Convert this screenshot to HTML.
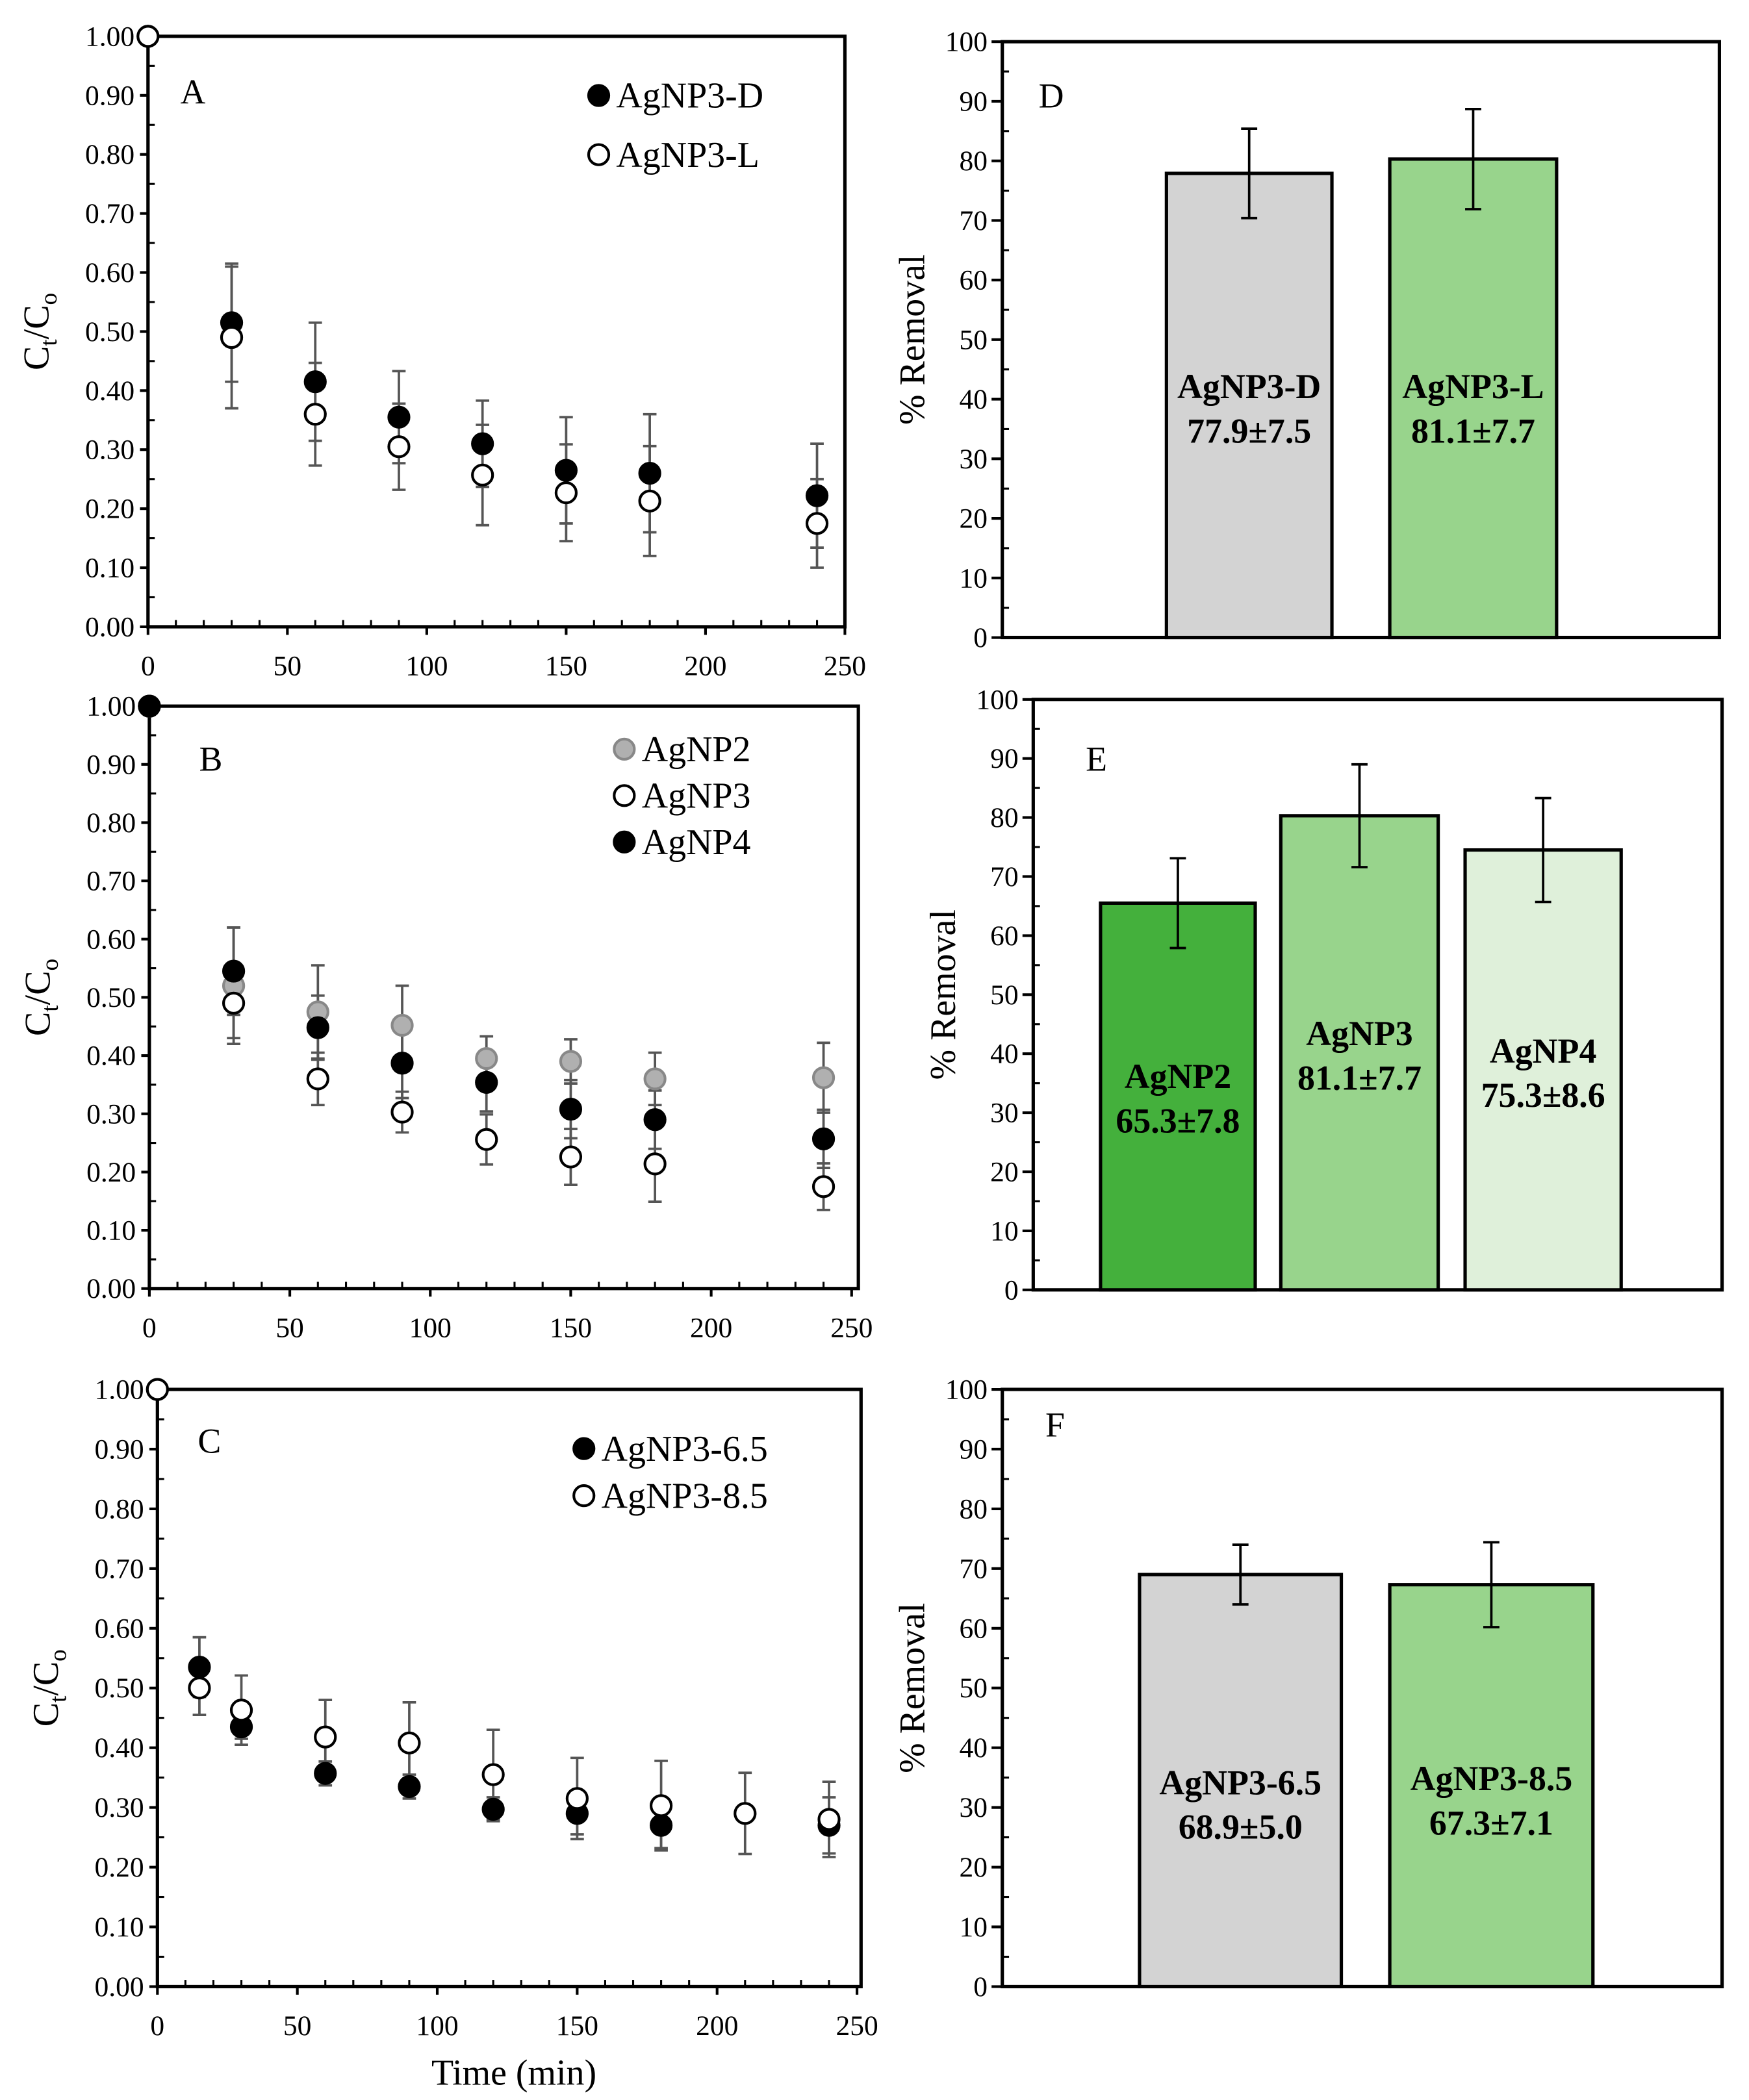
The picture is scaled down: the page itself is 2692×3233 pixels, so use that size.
<!DOCTYPE html>
<html><head><meta charset="utf-8"><style>
html,body{margin:0;padding:0;background:#fff}
svg{display:block;font-family:"Liberation Serif","Times New Roman",serif}
svg text, svg tspan{font-family:"Liberation Serif","Times New Roman",serif;fill:#000}
</style></head><body>
<svg id="fig" width="2692" height="3233" viewBox="0 0 1300 1561.3" font-family="Liberation Serif, serif" xmlns="http://www.w3.org/2000/svg"></svg>
<script>
// ---- Data ----
const timesA = [0,30,60,90,120,150,180,240];
const aD = [1.0,0.515,0.415,0.355,0.31,0.265,0.26,0.222];
const aDerr = [0,0.10,0.10,0.078,0.073,0.09,0.10,0.088];
const aL = [1.0,0.49,0.36,0.305,0.257,0.227,0.213,0.175];
const aLerr = [0,0.12,0.087,0.073,0.085,0.082,0.093,0.075];

const timesB = [0,30,60,90,120,150,180,240];
const b2 = [1.0,0.52,0.475,0.452,0.395,0.39,0.36,0.362];
const b2err = [0,0.10,0.08,0.068,0.038,0.038,0.045,0.06];
const b3 = [1.0,0.49,0.36,0.303,0.256,0.226,0.214,0.175];
const b3err = [0,0.06,0.045,0.035,0.043,0.048,0.065,0.04];
const b4 = [1.0,0.545,0.448,0.387,0.354,0.308,0.29,0.257];
const b4err = [0,0.075,0.055,0.06,0.05,0.05,0.05,0.05];

const timesC = [0,15,30,60,90,120,150,180,210,240];
const c65 = [1.0,0.535,0.435,0.357,0.335,0.297,0.29,0.27,null,0.27];
const c65err = [0,0.05,0.02,0.02,0.02,0.02,0.035,0.038,0,0.047];
const c85 = [1.0,0.50,0.463,0.418,0.408,0.355,0.315,0.303,0.29,0.28];
const c85err = [0,0.045,0.058,0.062,0.068,0.075,0.068,0.075,0.068,0.063];

const dNames = ["AgNP3-D","AgNP3-L"];
const dVals = [77.9,80.3];
const dErr = [7.5,8.4];
const dText = ["77.9±7.5","81.1±7.7"];

const eNames = ["AgNP2","AgNP3","AgNP4"];
const eVals = [65.5,80.3,74.5];
const eErr = [7.6,8.7,8.8];
const eText = ["65.3±7.8","81.1±7.7","75.3±8.6"];

const fNames = ["AgNP3-6.5","AgNP3-8.5"];
const fVals = [69.0,67.3];
const fErr = [5.0,7.1];
const fText = ["68.9±5.0","67.3±7.1"];

const svg = document.getElementById('fig');
const NS = 'http://www.w3.org/2000/svg';
const FF = '"Liberation Serif", serif';
function mk(tag, attrs, parent, txt){
  const e = document.createElementNS(NS, tag);
  for (const k in attrs) e.setAttribute(k, attrs[k]);
  if (tag === 'text') e.style.fontFamily = FF;
  if (txt !== undefined) e.textContent = txt;
  (parent||svg).appendChild(e);
  return e;
}

// ---- Scatter panel ----
function scatterPanel(p){
  const g = mk('g', {});
  
  
  const sx = v => p.x0 + (v/250)*(p.x1 - p.x0);
  const sy = v => p.y0 - v*(p.y0 - p.y1);
  const fr = mk('rect', {x:p.x0, y:p.y1, width:p.xr-p.x0, height:p.y0-p.y1, fill:'none', stroke:'#000', 'stroke-width':2.5}, g);
  
  
  for (let i=0;i<=20;i++){
    const v = i*0.05, y = sy(v);
    if (i%2===0){
      mk('line',{x1:p.x0-6,x2:p.x0,y1:y,y2:y,stroke:'#000','stroke-width':2},g);
      const t = mk('text',{x:p.x0-10,y:y+7,'font-size':21,'text-anchor':'end'},g,v.toFixed(2));
      
      
    } else {
      mk('line',{x1:p.x0,x2:p.x0+5,y1:y,y2:y,stroke:'#000','stroke-width':1.5},g);
    }
  }
  for (let v=0; v<=250; v+=10){
    const x = sx(v);
    if (v%50===0){
      mk('line',{x1:x,x2:x,y1:p.y0,y2:p.y0+6,stroke:'#000','stroke-width':2},g);
      const t = mk('text',{x:x,y:p.y0+36,'font-size':21,'text-anchor':'middle'},g,String(v));
      
      
    } else {
      mk('line',{x1:x,x2:x,y1:p.y0-5,y2:p.y0,stroke:'#000','stroke-width':1.5},g);
    }
  }
  const yt = mk('text',{transform:`translate(${p.x0-74},${(p.y0+p.y1)/2}) rotate(-90)`,'font-size':27,'text-anchor':'middle'},g);
  
  
  mk('tspan',{},yt,'C');
  mk('tspan',{'font-size':18,dy:6},yt,'t');
  mk('tspan',{dy:-6},yt,'/C');
  mk('tspan',{'font-size':18,dy:6},yt,'o');
  const lt = mk('text',{x:p.letter[0],y:p.letter[1],'font-size':26},g,p.letterText);
  
  
  p.series.forEach(s=>{
    s.vals.forEach((v,i)=>{
      if (v===null || !s.err[i]) return;
      const x = sx(p.times[i]);
      const e = mk('path',{d:`M${x},${sy(v-s.err[i])}V${sy(v+s.err[i])}M${x-5},${sy(v-s.err[i])}h10M${x-5},${sy(v+s.err[i])}h10`,stroke:'#555','stroke-width':1.8,fill:'none'},g);
      
      
    });
  });
  p.series.forEach(s=>{
    s.vals.forEach((v,i)=>{
      if (v===null) return;
      const c = mk('circle',{cx:sx(p.times[i]),cy:sy(v),r:7.5,fill:s.fill,stroke:s.stroke,'stroke-width':2},g);
      
      
    });
  });
  p.series.forEach((s,i)=>{
    const ly = p.leg[1] + i*p.legStep;
    const lc = mk('circle',{cx:p.leg[0],cy:ly,r:7.5,fill:s.fill,stroke:s.stroke,'stroke-width':2},g);
    
    
    const lt2 = mk('text',{x:p.leg[0]+13,y:ly+9,'font-size':27},g,s.label);
    
    
  });
}

scatterPanel({name:'panel-a', x0:110, x1:628, xr:628, y0:466, y1:27, times:timesA,
  letter:[134,77], letterText:'A', leg:[445,71], legStep:44,
  series:[{key:'agnp3-d',label:'AgNP3-D',vals:aD,err:aDerr,fill:'#000',stroke:'#000'},
          {key:'agnp3-l',label:'AgNP3-L',vals:aL,err:aLerr,fill:'#fff',stroke:'#000'}]});
scatterPanel({name:'panel-b', x0:111, x1:633, xr:638, y0:958, y1:525, times:timesB,
  letter:[148,573], letterText:'B', leg:[464,557], legStep:34.5,
  series:[{key:'agnp2',label:'AgNP2',vals:b2,err:b2err,fill:'#b0b0b0',stroke:'#888'},
          {key:'agnp3',label:'AgNP3',vals:b3,err:b3err,fill:'#fff',stroke:'#000'},
          {key:'agnp4',label:'AgNP4',vals:b4,err:b4err,fill:'#000',stroke:'#000'}]});
scatterPanel({name:'panel-c', x0:117, x1:637, xr:640, y0:1477, y1:1033, times:timesC,
  letter:[147,1080], letterText:'C', leg:[434,1077], legStep:35,
  series:[{key:'agnp3-6-5',label:'AgNP3-6.5',vals:c65,err:c65err,fill:'#000',stroke:'#000'},
          {key:'agnp3-8-5',label:'AgNP3-8.5',vals:c85,err:c85err,fill:'#fff',stroke:'#000'}]});
const xt = mk('text',{x:382,y:1550,'font-size':27,'text-anchor':'middle'},svg,'Time (min)');



// ---- Bar panel ----
function barPanel(p){
  const g = mk('g', {});
  
  
  const sy = v => p.y0 - (v/100)*(p.y0 - p.y1);
  const fr = mk('rect',{x:p.x0,y:p.y1,width:p.xr-p.x0,height:p.y0-p.y1,fill:'none',stroke:'#000','stroke-width':2.5},g);
  
  
  for (let i=0;i<=20;i++){
    const v=i*5, y=sy(v);
    if (i%2===0){
      mk('line',{x1:p.x0-8,x2:p.x0,y1:y,y2:y,stroke:'#000','stroke-width':2},g);
      const t = mk('text',{x:p.x0-11,y:y+7,'font-size':21,'text-anchor':'end'},g,String(v));
      
      
    } else {
      mk('line',{x1:p.x0,x2:p.x0+5,y1:y,y2:y,stroke:'#000','stroke-width':1.5},g);
    }
  }
  const yt = mk('text',{transform:`translate(${p.x0-58},${(p.y0+p.y1)/2}) rotate(-90)`,'font-size':27,'text-anchor':'middle'},g,'% Removal');
  
  
  const lt = mk('text',{x:p.letter[0],y:p.letter[1],'font-size':26},g,p.letterText);
  
  
  p.vals.forEach((v,i)=>{
    const bx = p.bars[i][0], bw = p.bars[i][1]-p.bars[i][0];
    const r = mk('rect',{x:bx,y:sy(v),width:bw,height:p.y0-sy(v),fill:p.colors[i],stroke:'#000','stroke-width':2.5},g);
    
    
    const cx = bx+bw/2;
    const e = mk('path',{d:`M${cx},${sy(v-p.err[i])}V${sy(v+p.err[i])}M${cx-6},${sy(v-p.err[i])}h12M${cx-6},${sy(v+p.err[i])}h12`,stroke:'#000','stroke-width':1.8,fill:'none'},g);
    
    
    const ly = p.labelY[i];
    const t1 = mk('text',{x:cx,y:ly,'font-size':26,'font-weight':'bold','text-anchor':'middle'},g,p.names[i]);
    
    
    const t2 = mk('text',{x:cx,y:ly+33,'font-size':26,'font-weight':'bold','text-anchor':'middle'},g,p.text[i]);
    
    
  });
}
barPanel({name:'panel-d', x0:745, xr:1278, y0:474, y1:31, letter:[772,80], letterText:'D',
  vals:dVals, err:dErr, names:dNames, text:dText, bars:[[867,990],[1033,1157]],
  colors:['#d3d3d3','#98d48c'], labelY:[296,296]});
barPanel({name:'panel-e', x0:768, xr:1280, y0:959, y1:520, letter:[807,573], letterText:'E',
  vals:eVals, err:eErr, names:eNames, text:eText, bars:[[818,933],[952,1069],[1089,1205]],
  colors:['#44b03c','#98d48c','#dff0da'], labelY:[809,777,790]});
barPanel({name:'panel-f', x0:745, xr:1280, y0:1477, y1:1033, letter:[777,1068], letterText:'F',
  vals:fVals, err:fErr, names:fNames, text:fText, bars:[[847,997],[1033,1184]],
  colors:['#d3d3d3','#98d48c'], labelY:[1334,1331]});
</script>
</body></html>
